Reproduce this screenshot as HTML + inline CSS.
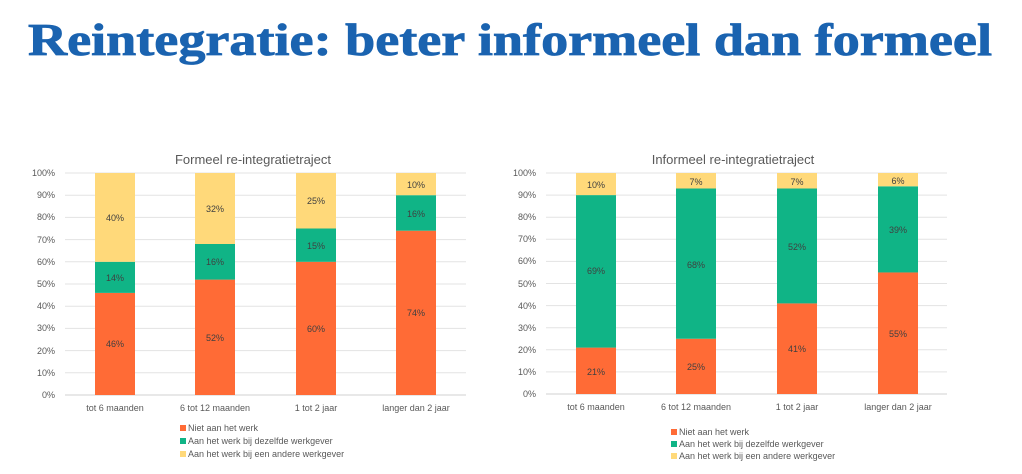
<!DOCTYPE html>
<html><head><meta charset="utf-8"><style>
html,body{margin:0;padding:0;background:#fff;}
svg{display:block;}
text{font-family:"Liberation Sans",sans-serif;}
.t{font-size:9px;fill:#595959;}
.d{font-size:9px;fill:#404040;text-anchor:middle;}
.c{font-size:9px;fill:#595959;text-anchor:middle;}
.ti{font-size:13px;fill:#595959;text-anchor:middle;}
.g{stroke:#e3e3e3;stroke-width:1;}
</style></head><body>
<svg width="1022" height="474" viewBox="0 0 1022 474" xmlns="http://www.w3.org/2000/svg">
<text x="28" y="55" style="font-family:'Liberation Serif',serif;font-weight:bold;font-size:45px;fill:#1a63b0;stroke:#1a63b0;stroke-width:0.8" textLength="964" lengthAdjust="spacingAndGlyphs">Reintegratie: beter informeel dan formeel</text>

<!-- LEFT CHART -->
<text class="ti" x="253" y="164">Formeel re-integratietraject</text>
<g class="g">
<line x1="65" x2="466" y1="173" y2="173"/><line x1="65" x2="466" y1="195.2" y2="195.2"/><line x1="65" x2="466" y1="217.4" y2="217.4"/><line x1="65" x2="466" y1="239.6" y2="239.6"/><line x1="65" x2="466" y1="261.8" y2="261.8"/><line x1="65" x2="466" y1="284" y2="284"/><line x1="65" x2="466" y1="306.2" y2="306.2"/><line x1="65" x2="466" y1="328.4" y2="328.4"/><line x1="65" x2="466" y1="350.6" y2="350.6"/><line x1="65" x2="466" y1="372.8" y2="372.8"/><line x1="65" x2="466" y1="395" y2="395" style="stroke:#d0d0d0"/>
</g>
<g class="t" text-anchor="end">
<text x="55" y="176">100%</text><text x="55" y="198">90%</text><text x="55" y="220">80%</text><text x="55" y="243">70%</text><text x="55" y="265">60%</text><text x="55" y="287">50%</text><text x="55" y="309">40%</text><text x="55" y="331">30%</text><text x="55" y="354">20%</text><text x="55" y="376">10%</text><text x="55" y="398">0%</text>
</g>
<rect x="95" y="292.9" width="40" height="102.1" fill="#ff6b36"/><rect x="95" y="261.8" width="40" height="31.1" fill="#10b486"/><rect x="95" y="173" width="40" height="88.8" fill="#ffd97a"/>
<rect x="195" y="279.6" width="40" height="115.4" fill="#ff6b36"/><rect x="195" y="244" width="40" height="35.6" fill="#10b486"/><rect x="195" y="173" width="40" height="71" fill="#ffd97a"/>
<rect x="296" y="261.8" width="40" height="133.2" fill="#ff6b36"/><rect x="296" y="228.5" width="40" height="33.3" fill="#10b486"/><rect x="296" y="173" width="40" height="55.5" fill="#ffd97a"/>
<rect x="396" y="230.7" width="40" height="164.3" fill="#ff6b36"/><rect x="396" y="195.2" width="40" height="35.5" fill="#10b486"/><rect x="396" y="173" width="40" height="22.2" fill="#ffd97a"/>
<text class="d" x="115" y="347">46%</text><text class="d" x="115" y="281">14%</text><text class="d" x="115" y="221">40%</text>
<text class="d" x="215" y="341">52%</text><text class="d" x="215" y="265">16%</text><text class="d" x="215" y="212">32%</text>
<text class="d" x="316" y="332">60%</text><text class="d" x="316" y="249">15%</text><text class="d" x="316" y="204">25%</text>
<text class="d" x="416" y="316">74%</text><text class="d" x="416" y="217">16%</text><text class="d" x="416" y="188">10%</text>
<text class="c" x="115" y="411">tot 6 maanden</text><text class="c" x="215" y="411">6 tot 12 maanden</text><text class="c" x="316" y="411">1 tot 2 jaar</text><text class="c" x="416" y="411">langer dan 2 jaar</text>
<rect x="180" y="425" width="6" height="6" fill="#ff6b36"/><text class="t" x="188" y="431">Niet aan het werk</text>
<rect x="180" y="438" width="6" height="6" fill="#10b486"/><text class="t" x="188" y="444">Aan het werk bij dezelfde werkgever</text>
<rect x="180" y="451" width="6" height="6" fill="#ffd97a"/><text class="t" x="188" y="457">Aan het werk bij een andere werkgever</text>

<!-- RIGHT CHART -->
<text class="ti" x="733" y="164">Informeel re-integratietraject</text>
<g class="g">
<line x1="546" x2="947" y1="173" y2="173"/><line x1="546" x2="947" y1="195.1" y2="195.1"/><line x1="546" x2="947" y1="217.2" y2="217.2"/><line x1="546" x2="947" y1="239.3" y2="239.3"/><line x1="546" x2="947" y1="261.4" y2="261.4"/><line x1="546" x2="947" y1="283.5" y2="283.5"/><line x1="546" x2="947" y1="305.6" y2="305.6"/><line x1="546" x2="947" y1="327.7" y2="327.7"/><line x1="546" x2="947" y1="349.8" y2="349.8"/><line x1="546" x2="947" y1="371.9" y2="371.9"/><line x1="546" x2="947" y1="394" y2="394" style="stroke:#d0d0d0"/>
</g>
<g class="t" text-anchor="end">
<text x="536" y="176">100%</text><text x="536" y="198">90%</text><text x="536" y="220">80%</text><text x="536" y="242">70%</text><text x="536" y="264">60%</text><text x="536" y="287">50%</text><text x="536" y="309">40%</text><text x="536" y="331">30%</text><text x="536" y="353">20%</text><text x="536" y="375">10%</text><text x="536" y="397">0%</text>
</g>
<rect x="576" y="347.6" width="40" height="46.4" fill="#ff6b36"/><rect x="576" y="195.1" width="40" height="152.5" fill="#10b486"/><rect x="576" y="173" width="40" height="22.1" fill="#ffd97a"/>
<rect x="676" y="338.75" width="40" height="55.25" fill="#ff6b36"/><rect x="676" y="188.5" width="40" height="150.25" fill="#10b486"/><rect x="676" y="173" width="40" height="15.5" fill="#ffd97a"/>
<rect x="777" y="303.4" width="40" height="90.6" fill="#ff6b36"/><rect x="777" y="188.5" width="40" height="114.9" fill="#10b486"/><rect x="777" y="173" width="40" height="15.5" fill="#ffd97a"/>
<rect x="878" y="272.45" width="40" height="121.55" fill="#ff6b36"/><rect x="878" y="186.3" width="40" height="86.15" fill="#10b486"/><rect x="878" y="173" width="40" height="13.3" fill="#ffd97a"/>
<text class="d" x="596" y="375">21%</text><text class="d" x="596" y="274">69%</text><text class="d" x="596" y="188">10%</text>
<text class="d" x="696" y="370">25%</text><text class="d" x="696" y="268">68%</text><text class="d" x="696" y="185">7%</text>
<text class="d" x="797" y="352">41%</text><text class="d" x="797" y="250">52%</text><text class="d" x="797" y="185">7%</text>
<text class="d" x="898" y="337">55%</text><text class="d" x="898" y="233">39%</text><text class="d" x="898" y="184">6%</text>
<text class="c" x="596" y="410">tot 6 maanden</text><text class="c" x="696" y="410">6 tot 12 maanden</text><text class="c" x="797" y="410">1 tot 2 jaar</text><text class="c" x="898" y="410">langer dan 2 jaar</text>
<rect x="671" y="429" width="6" height="6" fill="#ff6b36"/><text class="t" x="679" y="435">Niet aan het werk</text>
<rect x="671" y="441" width="6" height="6" fill="#10b486"/><text class="t" x="679" y="447">Aan het werk bij dezelfde werkgever</text>
<rect x="671" y="453" width="6" height="6" fill="#ffd97a"/><text class="t" x="679" y="459">Aan het werk bij een andere werkgever</text>
</svg>
</body></html>
